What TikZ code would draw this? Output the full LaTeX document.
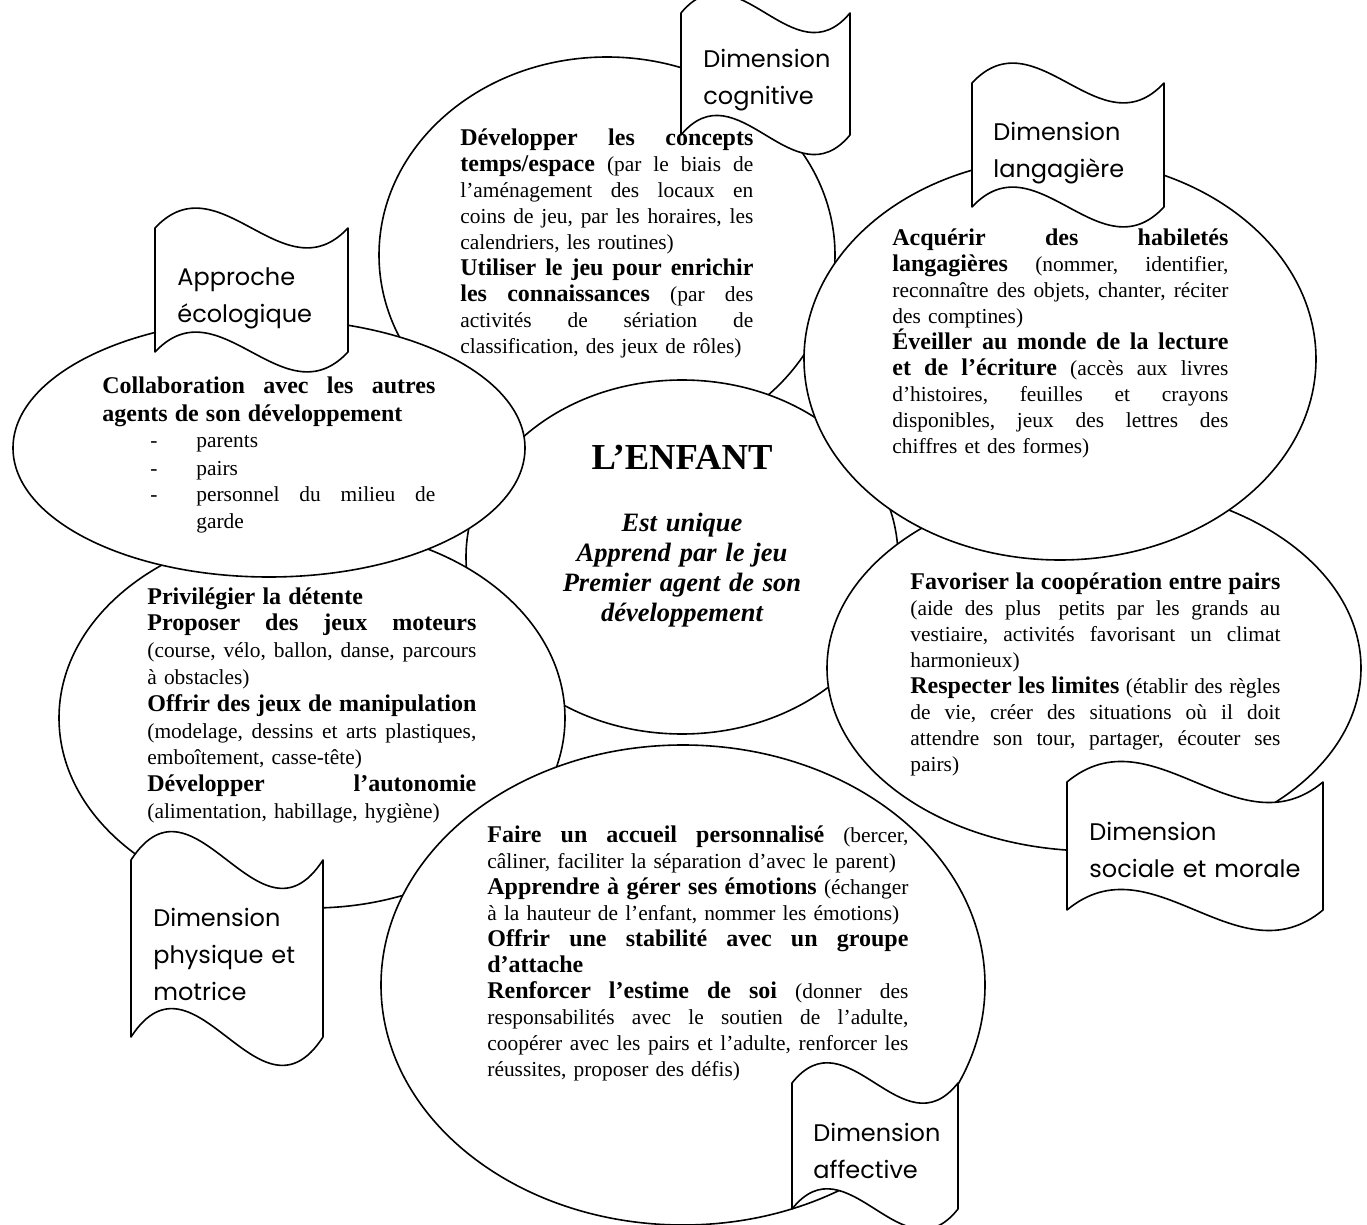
\documentclass[tikz,border=0pt]{standalone}
\usepackage{fontspec}
\setmainfont{Liberation Serif}
\newfontfamily\tagfont{Poppins}
\usetikzlibrary{shapes.geometric}
\tolerance=10000 \hbadness=10000 \hfuzz=5pt
\hyphenpenalty=10000 \exhyphenpenalty=10000
\newcommand\bd[1]{{\fontsize{12}{13}\selectfont\bfseries #1}}
\newcommand\JL[1]{\noindent\hbox to \hsize{\frenchspacing\spaceskip=.25em plus 1fil\relax #1}\par}
\newcommand\lastln[1]{\noindent #1\par}
% L R T B : wave banner
\newcommand\wavebanner[4]{%
  \draw[banner] (#1,#3)
    .. controls ({#1+(#2-#1)/3},{#3-(#4-#3)*0.5556}) and ({#1+2*(#2-#1)/3},{#3+(#4-#3)*0.5556}) .. (#2,#3)
    -- (#2,#4)
    .. controls ({#1+2*(#2-#1)/3},{#4+(#4-#3)*0.5556}) and ({#1+(#2-#1)/3},{#4-(#4-#3)*0.5556}) .. (#1,#4)
    -- cycle;}
\tikzset{
  bubble/.style={draw, ellipse, line width=0.8pt, fill=white, inner sep=0pt, outer sep=0pt},
  banner/.style={draw, line width=0.8pt, fill=white, line join=round},
  body/.style={font=\fontsize{10.7}{13}\selectfont, inner sep=0pt, anchor=base west},
  tagtext/.style={font=\tagfont\fontsize{12}{18.5}\selectfont, text width=120pt, inner sep=0pt, anchor=base west},
}
\begin{document}
\begin{tikzpicture}[x=0.5pt, y=-0.5pt]
\useasboundingbox (0,0) rectangle (1367,1225);
\fill[white] (0,0) rectangle (1367,1225);
\clip (0,0) rectangle (1367,1225);

% ellipses (minimum width/height in pt = radius in px)
\node[bubble, minimum width=456pt*0.5, minimum height=396pt*0.5] (cog) at (607,255) {};
\node[bubble, minimum width=432pt*0.5, minimum height=354pt*0.5] (enfant) at (682,557) {};
\node[bubble, minimum width=534pt*0.5, minimum height=366pt*0.5] (social) at (1094,668) {};
\node[bubble, minimum width=506pt*0.5, minimum height=380pt*0.5] (phys) at (312,718) {};
\node[bubble, minimum width=604pt*0.5, minimum height=480pt*0.5] (affect) at (683,985) {};
\node[bubble, minimum width=512pt*0.5, minimum height=258pt*0.5] (eco) at (269,448) {};
\node[bubble, minimum width=512pt*0.5, minimum height=402pt*0.5] (lang) at (1060,359) {};

% wave banners
\wavebanner{681}{850}{13}{135}
\wavebanner{972}{1164}{83}{207}
\wavebanner{155}{348}{228}{352}
\wavebanner{131}{323}{860}{1037}
\wavebanner{1067}{1323}{782}{910}
\wavebanner{792}{958}{1083}{1209}

% banner labels
\node[tagtext] (tcog) at (703,68) {Dimension\par cognitive};
\node[tagtext] (tlang) at (993,141) {Dimension\par langagière};
\node[tagtext] (teco) at (177,286) {Approche\par écologique};
\node[tagtext] (tphys) at (153,926) {Dimension\par physique et\par motrice};
\node[tagtext] (tsoc) at (1089,840) {Dimension\par sociale et morale};
\node[tagtext] (taff) at (813,1141) {Dimension\par affective};

% centre
\node[inner sep=0pt, anchor=base, font=\fontsize{18.3}{22}\selectfont\bfseries] (title) at (682,470) {L’ENFANT};
\node[inner sep=0pt, anchor=base, text width=160pt, align=center,
      font=\fontsize{13.25}{15}\selectfont\bfseries\itshape] (traits) at (682,531)
  {Est unique\\Apprend par le jeu\\Premier agent de son\\développement};

% cognitive text
\node[body, text width=146.5pt] (xcog) at (460,146) {%
\JL{\bd{Développer les concepts}}
\JL{\bd{temps/espace} (par le biais de}
\JL{l’aménagement des locaux en}
\JL{coins de jeu, par les horaires, les}
\lastln{calendriers, les routines)}
\JL{\bd{Utiliser le jeu pour enrichir}}
\JL{\bd{les connaissances} (par des}
\JL{activités de sériation de}
\lastln{classification, des jeux de rôles)}};

% langagiere text
\node[body, text width=168pt] (xlang) at (892,246) {%
\JL{\bd{Acquérir des habiletés}}
\JL{\bd{langagières} (nommer, identifier,}
\JL{reconnaître des objets, chanter, réciter}
\lastln{des comptines)}
\JL{\bd{Éveiller au monde de la lecture}}
\JL{\bd{et de l’écriture} (accès aux livres}
\JL{d’histoires, feuilles et crayons}
\JL{disponibles, jeux des lettres des}
\lastln{chiffres et des formes)}};

% ecologique text
\node[body, text width=166.5pt, font=\fontsize{10.7}{13.5}\selectfont] (xeco) at (102,394) {%
\JL{\bd{Collaboration avec les autres}}
\lastln{\bd{agents de son développement}}
\noindent\hspace*{24pt}\makebox[23pt][l]{-}parents\par
\noindent\hspace*{24pt}\makebox[23pt][l]{-}pairs\par
\noindent\hspace*{24pt}\makebox[23pt][l]{-}\hbox to \dimexpr\hsize-47pt\relax{\spaceskip=.25em plus 1fil\relax personnel du milieu de}\par
\noindent\hspace*{47pt}garde\par};

% physique text
\node[body, text width=164.5pt, font=\fontsize{10.7}{13.4}\selectfont] (xphys) at (147,604) {%
\lastln{\bd{Privilégier la détente}}
\JL{\bd{Proposer des jeux moteurs}}
\JL{(course, vélo, ballon, danse, parcours}
\lastln{à obstacles)}
\JL{\bd{Offrir des jeux de manipulation}}
\JL{(modelage, dessins et arts plastiques,}
\lastln{emboîtement, casse-tête)}
\JL{\bd{Développer l’autonomie}}
\lastln{(alimentation, habillage, hygiène)}};

% sociale text
\node[body, text width=185pt] (xsoc) at (910,589) {%
\JL{\bd{Favoriser la coopération entre pairs}}
\JL{(aide des plus\hspace{3pt} petits par les grands au}
\JL{vestiaire, activités favorisant un climat}
\lastln{harmonieux)}
\JL{\bd{Respecter les limites} (établir des règles}
\JL{de vie, créer des situations où il doit}
\JL{attendre son tour, partager, écouter ses}
\lastln{pairs)}};

% affective text
\node[body, text width=210.5pt] (xaff) at (487,842) {%
\JL{\bd{Faire un accueil personnalisé} (bercer,}
\lastln{câliner, faciliter la séparation d’avec le parent)}
\JL{\bd{Apprendre à gérer ses émotions} (échanger}
\lastln{à la hauteur de l’enfant, nommer les émotions)}
\JL{\bd{Offrir une stabilité avec un groupe}}
\lastln{\bd{d’attache}}
\JL{\bd{Renforcer l’estime de soi} (donner des}
\JL{responsabilités avec le soutien de l’adulte,}
\JL{coopérer avec les pairs et l’adulte, renforcer les}
\lastln{réussites, proposer des défis)}};
\end{tikzpicture}
\end{document}
